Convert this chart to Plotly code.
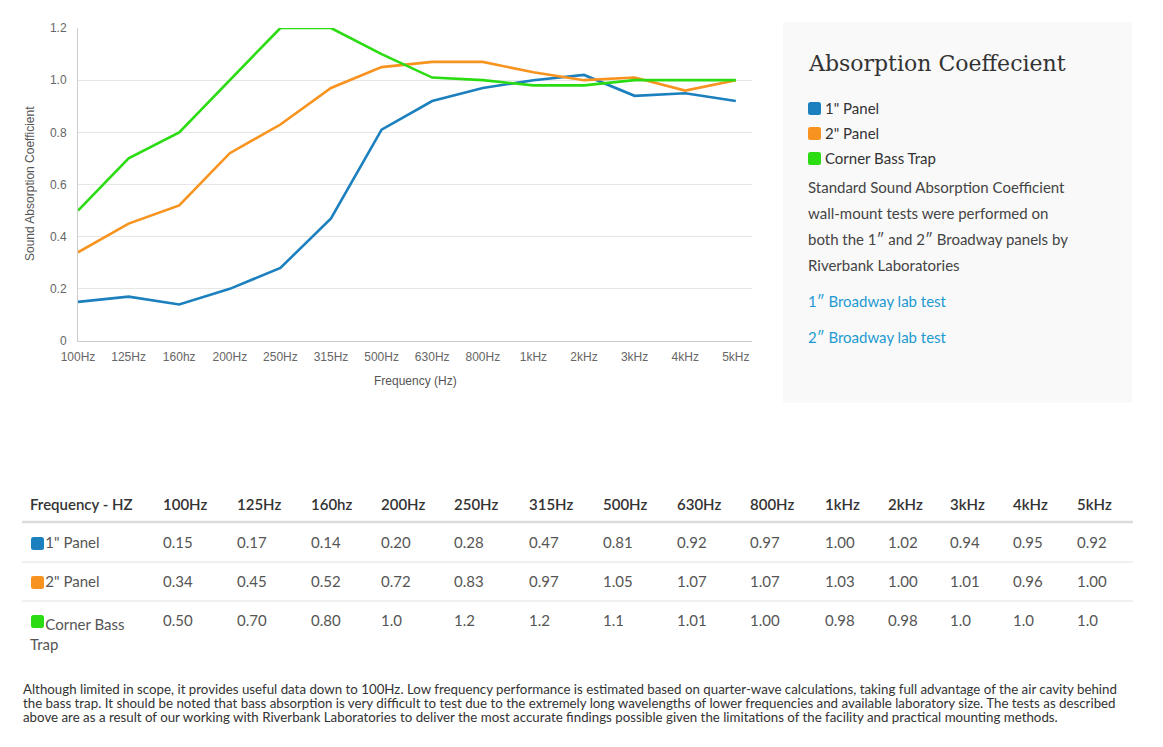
import plotly.graph_objects as go

W, H = 1163, 747

def X(px):
    return px / W

def Y(py):
    return 1 - py / H

freqs = ["100Hz", "125Hz", "160hz", "200Hz", "250Hz", "315Hz", "500Hz",
         "630Hz", "800Hz", "1kHz", "2kHz", "3kHz", "4kHz", "5kHz"]
panel1 = [0.15, 0.17, 0.14, 0.20, 0.28, 0.47, 0.81, 0.92, 0.97, 1.00, 1.02, 0.94, 0.95, 0.92]
panel2 = [0.34, 0.45, 0.52, 0.72, 0.83, 0.97, 1.05, 1.07, 1.07, 1.03, 1.00, 1.01, 0.96, 1.00]
bass_trap = [0.50, 0.70, 0.80, 1.0, 1.2, 1.2, 1.1, 1.01, 1.00, 0.98, 0.98, 1.0, 1.0, 1.0]
panel1_txt = ["0.15", "0.17", "0.14", "0.20", "0.28", "0.47", "0.81", "0.92", "0.97", "1.00", "1.02", "0.94", "0.95", "0.92"]
panel2_txt = ["0.34", "0.45", "0.52", "0.72", "0.83", "0.97", "1.05", "1.07", "1.07", "1.03", "1.00", "1.01", "0.96", "1.00"]
trap_txt = ["0.50", "0.70", "0.80", "1.0", "1.2", "1.2", "1.1", "1.01", "1.00", "0.98", "0.98", "1.0", "1.0", "1.0"]
series_names = ['1" Panel', '2" Panel', 'Corner Bass Trap']
colors = ["#1b80bd", "#f7931e", "#2bdc12"]
yticks = [0, 0.2, 0.4, 0.6, 0.8, 1.0, 1.2]
ytick_labels = ["0", "0.2", "0.4", "0.6", "0.8", "1.0", "1.2"]

fig = go.Figure()
xs = list(range(len(freqs)))
for name, vals, col in zip(series_names, [panel1, panel2, bass_trap], colors):
    fig.add_trace(go.Scatter(x=xs, y=vals, mode="lines", name=name,
                             line=dict(color=col, width=2.6), showlegend=False,
                             hoverinfo="skip"))

# Table
header_vals = ["Frequency - HZ"] + freqs
nb = "\u00a0" * 4
row_labels = [nb + '1" Panel', nb + '2" Panel', nb + 'Corner Bass<br>Trap']
cols = [row_labels] + [[a, b, c] for a, b, c in zip(panel1_txt, panel2_txt, trap_txt)]
colwidths = [133, 74, 74, 70, 73, 75, 74, 74, 73, 75, 63, 62, 63, 64, 64]
fig.add_trace(go.Table(
    domain=dict(x=[X(22), X(1133)], y=[Y(705), Y(491)]),
    columnwidth=colwidths,
    header=dict(values=header_vals, align="left", height=38,
                fill=dict(color="rgba(0,0,0,0)"), line=dict(color="rgba(0,0,0,0)", width=0),
                font=dict(family="Lato", size=15, color="#333", weight=600)),
    cells=dict(values=cols, align="left", height=39,
               fill=dict(color="rgba(0,0,0,0)"), line=dict(color="rgba(0,0,0,0)", width=0),
               font=dict(family="Lato", size=15, color="#555")),
))

shapes = []
shapes.append(dict(type="rect", xref="paper", yref="paper", x0=X(783), x1=X(1132),
                   y0=Y(403), y1=Y(22), fillcolor="#f9f9f9", line=dict(width=0), layer="below"))
shapes.append(dict(type="line", xref="paper", yref="paper", x0=X(22), x1=X(1133),
                   y0=Y(522), y1=Y(522), line=dict(color="#dcdcdc", width=2.5)))
for yy in [562, 601]:
    shapes.append(dict(type="line", xref="paper", yref="paper", x0=X(22), x1=X(1133),
                       y0=Y(yy), y1=Y(yy), line=dict(color="#e2e2e2", width=1)))

def rsq(x0, y0, size, col, r=2.5):
    x1, y1 = x0 + size, y0 + size
    p = (f"M {X(x0+r)},{Y(y0)} L {X(x1-r)},{Y(y0)} Q {X(x1)},{Y(y0)} {X(x1)},{Y(y0+r)} "
         f"L {X(x1)},{Y(y1-r)} Q {X(x1)},{Y(y1)} {X(x1-r)},{Y(y1)} "
         f"L {X(x0+r)},{Y(y1)} Q {X(x0)},{Y(y1)} {X(x0)},{Y(y1-r)} "
         f"L {X(x0)},{Y(y0+r)} Q {X(x0)},{Y(y0)} {X(x0+r)},{Y(y0)} Z")
    return dict(type="path", xref="paper", yref="paper", path=p, fillcolor=col,
                line=dict(width=0))

for i, col in enumerate(colors):
    shapes.append(rsq(808, 102 + 25 * i, 13, col))
    shapes.append(rsq(31, 537 + 39 * i, 13, col))

ann = []
def text(x, y, s, size=15, color="#333", family="Lato", xanchor="left", **kw):
    ann.append(dict(x=X(x), y=Y(y), xref="paper", yref="paper", text=s, showarrow=False,
                    xanchor=xanchor, yanchor="middle", font=dict(family=family, size=size, color=color), **kw))

text(806, 64, "Absorption Coeffecient", size=22, color="#333", family="DejaVu Serif")
for i, nm in enumerate(series_names):
    text(823, 108 + 25 * i, nm, size=15, color="#333")
body = ["Standard Sound Absorption Coefficient", "wall-mount tests were performed on",
        "both the 1\u2033 and 2\u2033 Broadway panels by", "Riverbank Laboratories"]
for i, s in enumerate(body):
    text(806, 187 + 26 * i, s, size=15, color="#444")
text(806, 301, "1\u2033 Broadway lab test", size=15, color="#1e9ad2")
text(806, 337, "2\u2033 Broadway lab test", size=15, color="#1e9ad2")

footer = [
    "Although limited in scope, it provides useful data down to 100Hz. Low frequency performance is estimated based on quarter-wave calculations, taking full advantage of the air cavity behind",
    "the bass trap. It should be noted that bass absorption is very difficult to test due to the extremely long wavelengths of lower frequencies and available laboratory size. The tests as described",
    "above are as a result of our working with Riverbank Laboratories to deliver the most accurate findings possible given the limitations of the facility and practical mounting methods.",
]
for i, s in enumerate(footer):
    text(21, 689 + 14 * i, s, size=13.3, color="#333")

text(415, 381, "Frequency (Hz)", size=12, color="#555", family="Arial", xanchor="center")
ann.append(dict(x=X(30), y=Y(184), xref="paper", yref="paper", text="Sound Absorption Coefficient",
                showarrow=False, textangle=-90, xanchor="center", yanchor="middle",
                font=dict(family="Arial", size=12, color="#555")))

fig.update_layout(
    autosize=True, margin=dict(l=0, r=0, t=0, b=0, autoexpand=False),
    paper_bgcolor="white", plot_bgcolor="white",
    shapes=shapes, annotations=ann,
    xaxis=dict(domain=[X(78), X(752)], range=[0, 13.32], tickvals=xs, ticktext=freqs,
               showgrid=False, showline=True, linecolor="#cccccc", linewidth=1,
               zeroline=False, ticks="", ticklabelstandoff=5, automargin=False,
               tickfont=dict(family="Arial", size=12, color="#666")),
    yaxis=dict(domain=[Y(341), Y(28)], range=[0, 1.2], tickvals=yticks, ticktext=ytick_labels,
               showgrid=True, gridcolor="#e6e6e6", gridwidth=1, showline=True,
               linecolor="#cccccc", linewidth=1, zeroline=False, ticks="", automargin=False,
               ticklabelstandoff=8, tickfont=dict(family="Arial", size=12, color="#666")),
)

post = """
document.documentElement.style.margin='0';
document.documentElement.style.overflow='hidden';
document.body.style.margin='0';
document.body.style.overflow='hidden';
var gd = document.getElementById('{plot_id}');
gd.style.width = '100vw'; gd.style.height = '100vh';
Plotly.Plots.resize(gd);
"""
fig.write_html("out.html", config={"displayModeBar": False, "responsive": True},
               default_width="100vw", default_height="100vh", post_script=post)
